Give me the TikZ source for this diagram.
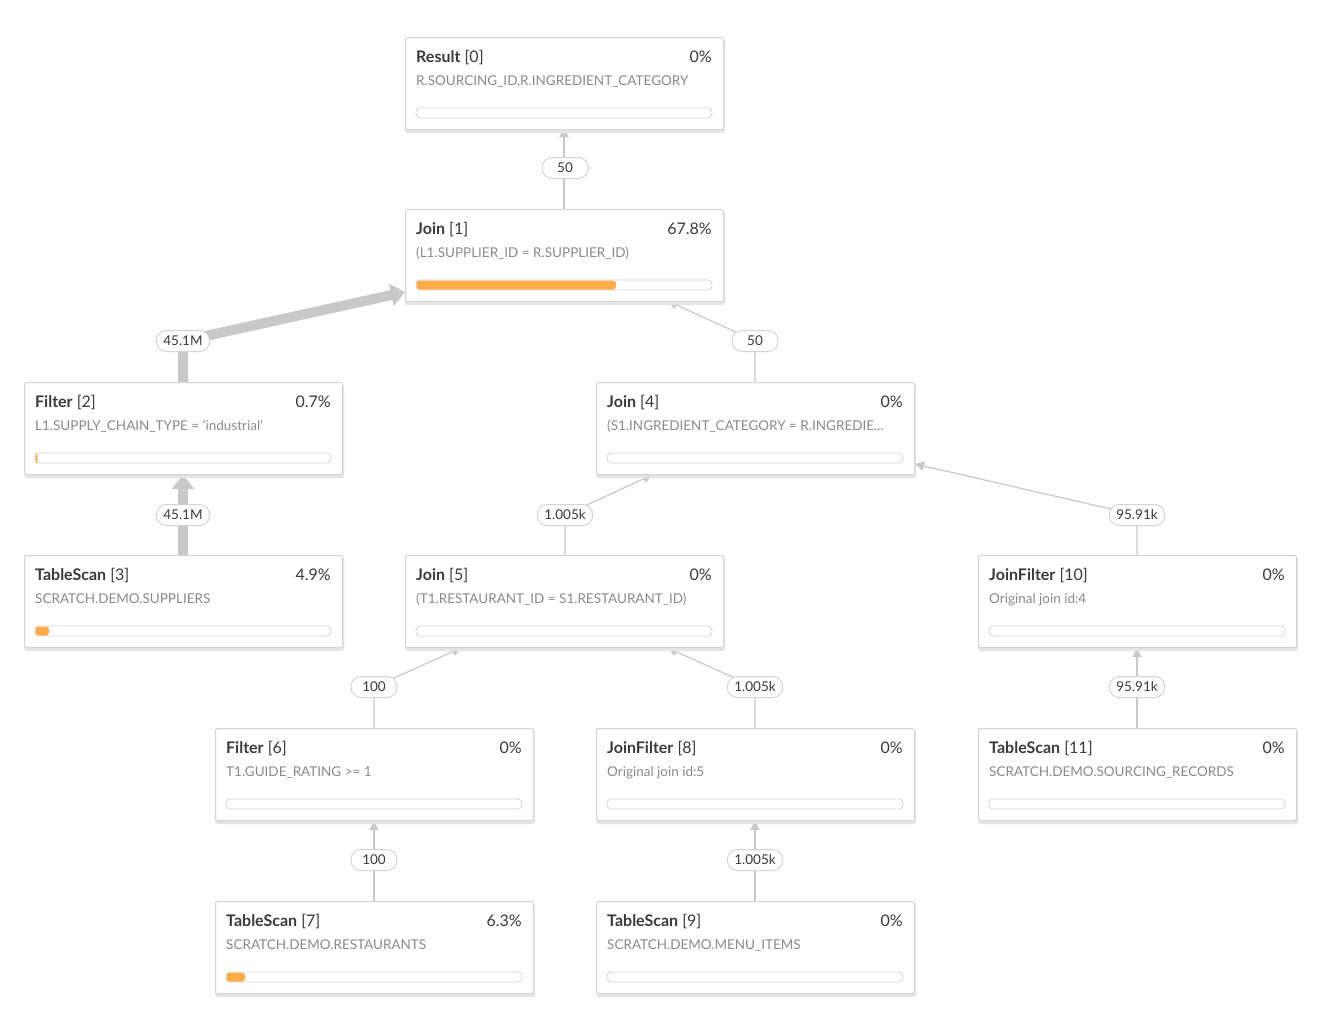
\documentclass[tikz,border=0pt]{standalone}
\usepackage{fontspec}
\setmainfont{Lato}
\usetikzlibrary{calc,arrows.meta}
\definecolor{bord}{HTML}{D4D4D4}
\definecolor{edge}{HTML}{C8C8C8}
\definecolor{orng}{HTML}{FFAB4A}
\definecolor{ttl}{HTML}{3A3A3A}
\definecolor{sub}{HTML}{8A8A8A}
\tikzset{
 box/.style={draw=bord,fill=white,rounded corners=2pt,minimum width=318pt,minimum height=92pt,inner sep=0pt,line width=1pt},
 shadow/.style={fill=black!10,rounded corners=3pt,draw=none,minimum width=320pt,minimum height=94pt,inner sep=0pt},
 ttl/.style={anchor=base west,font=\fontsize{16}{16}\selectfont,text=ttl,inner sep=0pt},
 pct/.style={anchor=base east,font=\fontsize{16}{16}\selectfont,text=ttl,inner sep=0pt},
 sub/.style={anchor=base west,font=\fontsize{13.5}{14}\selectfont,text=sub,inner sep=0pt},
 pill/.style={draw=bord,fill=white,rounded corners=10pt,minimum height=21pt,minimum width=46pt,inner xsep=7pt,font=\fontsize{13.5}{14}\selectfont,text=ttl,line width=1pt},
 thin/.style={draw=edge,line width=1.2pt,-{Triangle[length=9pt,width=9pt]}},
 thick/.style={draw=edge,line width=10pt,-{Triangle[length=14pt,width=22pt]}},
}
% name, x, y, title, id, pct, subtitle, barlen
\newcommand\opbox[8]{%
 \node[shadow,anchor=north west] at (#2+0,#3+2) {};
 \node[box,anchor=north west] (#1) at (#2,#3) {};
 \node[ttl] at (#2+11,#3+25) {\textbf{#4} #5};
 \node[pct] at (#2+307,#3+25) {#6};
 \node[sub] at (#2+11,#3+48) {#7};
 \draw[bord,fill=white,rounded corners=4pt,line width=0.8pt] (#2+11,#3+71) rectangle (#2+307,#3+81);
 \ifdim#8pt>0pt \fill[orng,rounded corners=3pt] (#2+11.5,#3+71.5) rectangle (#2+11+#8,#3+80.5);\fi
}
\begin{document}
\begin{tikzpicture}[x=1pt,y=-1pt]
\useasboundingbox[fill=white] (0,0) rectangle (1317,1017);
% edges first
\coordinate (e1) at (564,128);
\coordinate (e2) at (405,292);
\coordinate (e3) at (668,301);
\coordinate (e4) at (652,475);
\coordinate (e5) at (915,464);
\coordinate (e6) at (461,648);
\coordinate (e7) at (668,648);
\coordinate (e8) at (183,475);
\coordinate (e9) at (374,821);
\coordinate (e10) at (755,821);
\coordinate (e11) at (1137,648);
\coordinate (b2) at (183,341);
\coordinate (b3) at (755,341);
\coordinate (b4) at (565,515);
\coordinate (b5) at (1137,515);
\coordinate (b6) at (374,687);
\coordinate (b7) at (755,687);

\draw[thin] (564,209) -- (e1);
\draw[thick] (183,383) -- (b2) -- (e2);
\draw[thin] (755,382) -- (b3) -- (e3);
\draw[thin] (565,555) -- (b4) -- (e4);
\draw[thin] (1137,555) -- (b5) -- (e5);
\draw[thin] (374,728) -- (b6) -- (e6);
\draw[thin] (755,728) -- (b7) -- (e7);
\draw[thick] (183,556) -- (e8);
\draw[thin] (374,901) -- (e9);
\draw[thin] (755,901) -- (e10);
\draw[thin] (1137,728) -- (e11);

\opbox{r0}{405}{37}{Result}{[0]}{0\%}{R.SOURCING\_ID,R.INGREDIENT\_CATEGORY}{0}
\opbox{j1}{405}{209}{Join}{[1]}{67.8\%}{(L1.SUPPLIER\_ID = R.SUPPLIER\_ID)}{200}
\opbox{f2}{24}{382}{Filter}{[2]}{0.7\%}{L1.SUPPLY\_CHAIN\_TYPE = 'industrial'}{2.5}
\opbox{j4}{596}{382}{Join}{[4]}{0\%}{(S1.INGREDIENT\_CATEGORY = R.INGREDIE...}{0}
\opbox{t3}{24}{555}{TableScan}{[3]}{4.9\%}{SCRATCH.DEMO.SUPPLIERS}{14}
\opbox{j5}{405}{555}{Join}{[5]}{0\%}{(T1.RESTAURANT\_ID = S1.RESTAURANT\_ID)}{0}
\opbox{jf10}{978}{555}{JoinFilter}{[10]}{0\%}{Original join id:4}{0}
\opbox{f6}{215}{728}{Filter}{[6]}{0\%}{T1.GUIDE\_RATING >= 1}{0}
\opbox{jf8}{596}{728}{JoinFilter}{[8]}{0\%}{Original join id:5}{0}
\opbox{t11}{978}{728}{TableScan}{[11]}{0\%}{SCRATCH.DEMO.SOURCING\_RECORDS}{0}
\opbox{t7}{215}{901}{TableScan}{[7]}{6.3\%}{SCRATCH.DEMO.RESTAURANTS}{19}
\opbox{t9}{596}{901}{TableScan}{[9]}{0\%}{SCRATCH.DEMO.MENU\_ITEMS}{0}

\node[pill] (l1) at (565,168) {50};
\node[pill] (l2) at (b2) {45.1M};
\node[pill] (l3) at (b3) {50};
\node[pill] (l4) at (b4) {1.005k};
\node[pill] (l5) at (b5) {95.91k};
\node[pill] (l6) at (b6) {100};
\node[pill] (l7) at (b7) {1.005k};
\node[pill] (l8) at (183,515) {45.1M};
\node[pill] (l9) at (374,860) {100};
\node[pill] (l10) at (755,860) {1.005k};
\node[pill] (l11) at (1137,687) {95.91k};
\end{tikzpicture}
\end{document}
